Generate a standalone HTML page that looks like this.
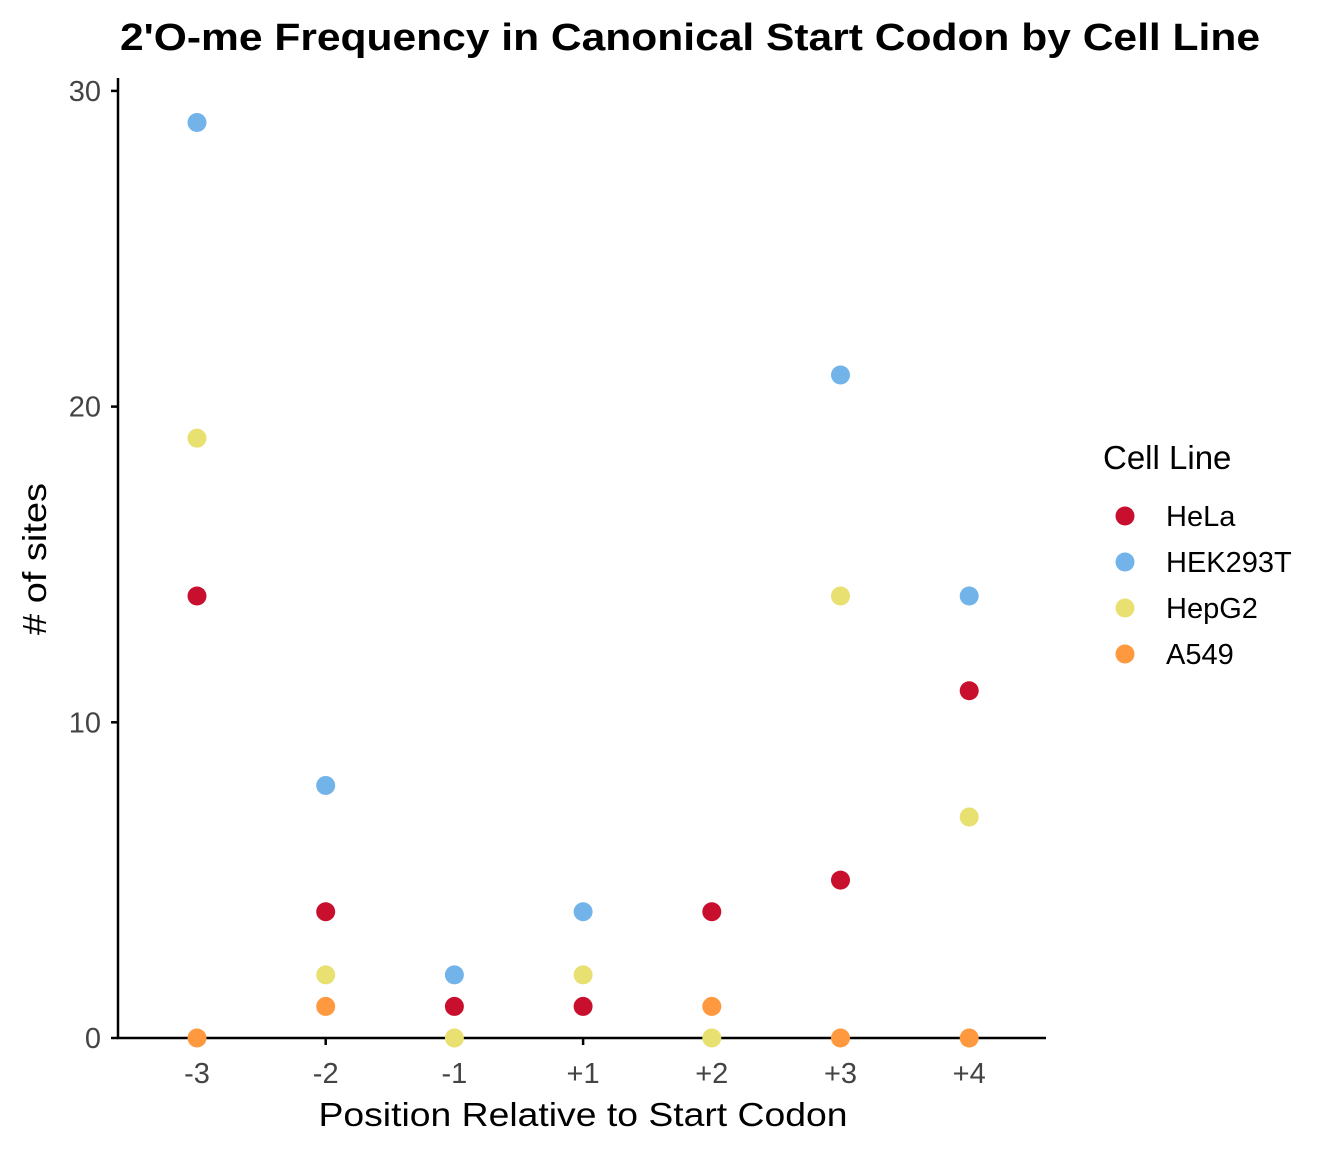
<!DOCTYPE html>
<html><head><meta charset="utf-8"><style>
body{margin:0;background:#fff;}
svg text{font-family:"Liberation Sans",Arial,sans-serif;}
</style></head><body>
<svg id="chart" width="1344" height="1152" xmlns="http://www.w3.org/2000/svg">
<rect width="1344" height="1152" fill="#fff"/>
<text x="690" y="50" text-anchor="middle" font-size="38" font-weight="bold" textLength="1140" lengthAdjust="spacingAndGlyphs">2'O-me Frequency in Canonical Start Codon by Cell Line</text>
<g id="axes"></g>
<g id="points"></g>
<text x="583" y="1126" text-anchor="middle" font-size="33" textLength="529" lengthAdjust="spacingAndGlyphs">Position Relative to Start Codon</text>
<text transform="translate(46,559) rotate(-90)" text-anchor="middle" font-size="33" textLength="152" lengthAdjust="spacingAndGlyphs"># of sites</text>
<g id="legend"></g>
</svg>
<script>
const categories=["-3","-2","-1","+1","+2","+3","+4"];
const seriesNames=["HeLa","HEK293T","HepG2","A549"];
const hela=[14,4,1,1,4,5,11];
const hek=[29,8,2,4,null,21,14];
const hepg2=[19,2,0,2,0,14,7];
const a549=[0,1,null,null,1,0,0];
const yTicks=[0,10,20,30];
const colors=["#C8102E","#72B4EA","#E8E070","#FF9940"];
const NS="http://www.w3.org/2000/svg";
function xS(i){return 197+i*128.7;}
function yS(v){return 1038-v*31.57;}
function mk(tag,attrs,parent){const e=document.createElementNS(NS,tag);for(const k in attrs)e.setAttribute(k,attrs[k]);parent.appendChild(e);return e;}
const axes=document.getElementById('axes');
let l=mk('line',{x1:118,y1:78,x2:118,y2:1039,stroke:'#000','stroke-width':2.5},axes);


l=mk('line',{x1:117,y1:1038,x2:1046,y2:1038,stroke:'#000','stroke-width':2.5},axes);


yTicks.forEach(t=>{
 const tk=mk('line',{x1:111,y1:yS(t),x2:118,y2:yS(t),stroke:'#000','stroke-width':2.5},axes);
 
 
 const tx=mk('text',{x:101,y:yS(t)+10,'text-anchor':'end','font-size':29,fill:'#444'},axes);
 tx.textContent=t;
 
 
});
categories.forEach((c,i)=>{
 const tk=mk('line',{x1:xS(i),y1:1038,x2:xS(i),y2:1045,stroke:'#000','stroke-width':2.5},axes);
 
 
 const tx=mk('text',{x:xS(i),y:1083,'text-anchor':'middle','font-size':29,fill:'#444'},axes);
 tx.textContent=c;
 
 
});
const pts=document.getElementById('points');
[hela,hek,hepg2,a549].forEach((s,k)=>{
 s.forEach((v,i)=>{
  if(v===null)return;
  const c=mk('circle',{cx:xS(i),cy:yS(v),r:9.5,fill:colors[k]},pts);
  
  
 });
});
const lg=document.getElementById('legend');
const lt=mk('text',{x:1103,y:469,'font-size':33},lg);
lt.textContent="Cell Line";


seriesNames.forEach((n,k)=>{
 const y=516+k*46;
 const c=mk('circle',{cx:1125,cy:y,r:9.5,fill:colors[k]},lg);
 
 
 const t=mk('text',{x:1166,y:y+10,'font-size':29},lg);
 t.textContent=n;
 
 
});
</script>
</body></html>
